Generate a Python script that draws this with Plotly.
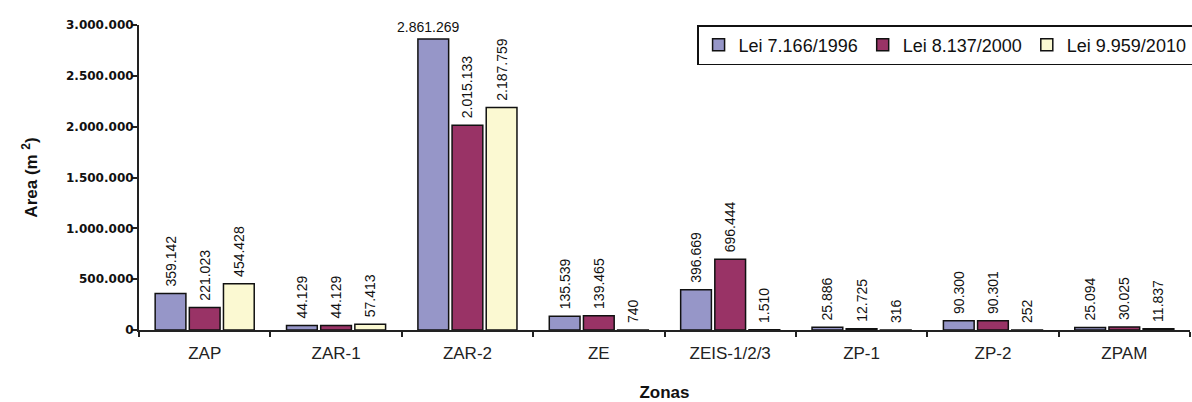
import plotly.graph_objects as go

# Zoning areas (m²) per law
zonas = ["ZAP", "ZAR-1", "ZAR-2", "ZE", "ZEIS-1/2/3", "ZP-1", "ZP-2", "ZPAM"]
lei_1996 = [359142, 44129, 2861269, 135539, 396669, 25886, 90300, 25094]
lei_2000 = [221023, 44129, 2015133, 139465, 696444, 12725, 90301, 30025]
lei_2010 = [454428, 57413, 2187759, 740, 1510, 316, 252, 11837]

series_names = ["Lei 7.166/1996", "Lei 8.137/2000", "Lei 9.959/2010"]
series_colors = ["#9696C8", "#993366", "#FBF9D2"]
y_ticks = [0, 500000, 1000000, 1500000, 2000000, 2500000, 3000000]


def fmt(v):
    return f"{v:,}".replace(",", ".")


LABEL_FONT = dict(family="Liberation Sans, Arial, sans-serif", size=14, color="#111111")
HORIZONTAL_LIMIT = 2500000  # labels of bars this tall are written flat above the bar
PAD = "\u00a0"  # small gap between a bar top and its rotated label

fig = go.Figure()
for name, color, vals in zip(series_names, series_colors, [lei_1996, lei_2000, lei_2010]):
    fig.add_trace(go.Bar(
        name=name,
        x=zonas,
        y=vals,
        marker=dict(color=color, line=dict(color="#111111", width=1.5)),
        text=[PAD + fmt(v) if v < HORIZONTAL_LIMIT else "" for v in vals],
        textposition="outside",
        textangle=-90,
        textfont=LABEL_FONT,
        constraintext="none",
        cliponaxis=False,
    ))

# Flat labels for the tallest bars
n_series = len(series_names)
bargap, bargroupgap = 0.22, 0.10
slot = (1 - bargap) / n_series
for s, vals in enumerate([lei_1996, lei_2000, lei_2010]):
    for i, v in enumerate(vals):
        if v >= HORIZONTAL_LIMIT:
            fig.add_annotation(
                x=i - (1 - bargap) / 2 + slot * (s + 0.5), y=v, xref="x", yref="y",
                text=fmt(v), showarrow=False, yanchor="bottom", yshift=2, xshift=-5,
                font=LABEL_FONT,
            )

fig.update_layout(
    width=1192, height=402,
    margin=dict(l=139, r=2, t=25, b=72, autoexpand=False),
    paper_bgcolor="white", plot_bgcolor="white",
    barmode="group", bargap=bargap, bargroupgap=bargroupgap,
    separators=",.",
    showlegend=True,
    legend=dict(
        orientation="h",
        x=0.531, xanchor="left", y=1.0, yanchor="top",
        bgcolor="white", bordercolor="#111111", borderwidth=1.5,
        font=dict(family="Liberation Sans, Arial, sans-serif", size=18, color="#111111"),
        itemwidth=30,
    ),
    xaxis=dict(
        type="category",
        showline=True, linecolor="#222222", linewidth=2,
        ticks="outside", ticklen=5, tickcolor="#222222", tickwidth=1.5,
        tickson="boundaries",
        ticklabelstandoff=7,
        tickfont=dict(family="Liberation Sans, Arial, sans-serif", size=17, color="#222222"),
        title=dict(text="Zonas", standoff=32,
                   font=dict(family="Liberation Sans, Arial, sans-serif", size=17,
                             color="#111111", weight="bold")),
        showgrid=False,
    ),
    yaxis=dict(
        range=[0, 3000000],
        tickvals=y_ticks, tickformat=",d",
        showline=True, linecolor="#222222", linewidth=2,
        ticks="outside", ticklen=5, tickcolor="#222222", tickwidth=1.5,
        ticklabelstandoff=-4,
        tickfont=dict(family="DejaVu Sans, Verdana, sans-serif", size=12,
                      color="#111111", weight="bold"),
        title=dict(text="Area (m <sup>2</sup>)", standoff=24,
                   font=dict(family="Liberation Sans, Arial, sans-serif", size=17,
                             color="#111111", weight="bold")),
        showgrid=False, zeroline=False,
    ),
)

fig.write_html("out.html")
